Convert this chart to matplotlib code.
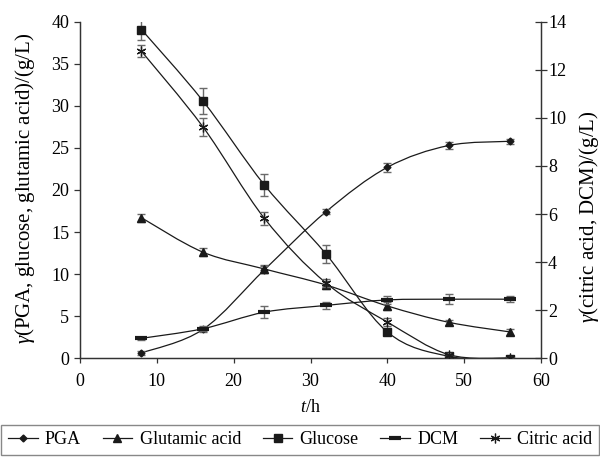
import numpy as np
import matplotlib
matplotlib.use("Agg")
import matplotlib.pyplot as plt
from matplotlib.path import Path
from matplotlib.patches import PathPatch

plt.rcParams['font.family'] = ['Liberation Serif', 'DejaVu Serif']
plt.rcParams['mathtext.fontset'] = 'custom'
plt.rcParams['mathtext.it'] = 'Liberation Serif:italic'
plt.rcParams['mathtext.rm'] = 'Liberation Serif'

# time points (h)
t = [8, 16, 24, 32, 40, 48, 56]

# left axis (g/L)
pga = [0.6, 3.4, 10.5, 17.4, 22.7, 25.3, 25.8]
pga_err = [0.2, 0.3, 0.4, 0.3, 0.5, 0.4, 0.3]
glutamic = [16.7, 12.6, 10.6, 8.7, 6.2, 4.25, 3.1]
glutamic_err = [0.5, 0.5, 0.5, 0.5, 0.5, 0.3, 0.4]
glucose = [39.1, 30.6, 20.6, 12.4, 3.1, 0.2, -0.15]
glucose_err = [1.2, 1.6, 1.3, 1.1, 0.4, 0.2, 0.2]

# right axis (g/L)
dcm = [0.82, 1.22, 1.91, 2.19, 2.42, 2.45, 2.45]
dcm_err = [0.05, 0.1, 0.25, 0.15, 0.15, 0.2, 0.12]
citric = [12.78, 9.63, 5.82, 3.13, 1.5, 0.14, 0.0]
citric_err = [0.25, 0.38, 0.26, 0.18, 0.18, 0.06, 0.05]

LC = '#1a1a1a'
EC = '#6a6a6a'
FS = 13


def smooth_line(ax, x, y):
    # Excel style smoothed line through the points (cubic Bezier segments)
    x = np.asarray(x, float)
    y = np.asarray(y, float)
    n = len(x)
    verts = [(x[0], y[0])]
    codes = [Path.MOVETO]
    for i in range(n - 1):
        x0, y0 = (x[i - 1], y[i - 1]) if i > 0 else (x[i], y[i])
        x3, y3 = (x[i + 2], y[i + 2]) if i + 2 < n else (x[i + 1], y[i + 1])
        c1 = (x[i] + (x[i + 1] - x0) / 6, y[i] + (y[i + 1] - y0) / 6)
        c2 = (x[i + 1] - (x3 - x[i]) / 6, y[i + 1] - (y3 - y[i]) / 6)
        verts += [c1, c2, (x[i + 1], y[i + 1])]
        codes += [Path.CURVE4] * 3
    ax.add_patch(PathPatch(Path(verts, codes), fill=False, ec=LC, lw=0.9,
                           zorder=2))


fig = plt.figure(figsize=(6, 4.57), dpi=100)
ax = fig.add_axes([0.1333, 0.2166, 0.7684, 0.7353])
ax2 = ax.twinx()

series = [
    (ax, pga, pga_err, dict(marker='D', ms=3.5), 'PGA'),
    (ax, glutamic, glutamic_err, dict(marker='^', ms=6), 'Glutamic acid'),
    (ax, glucose, glucose_err, dict(marker='s', ms=6), 'Glucose'),
    (ax2, dcm, dcm_err, dict(marker='_', ms=8, mew=3), 'DCM'),
    (ax2, citric, citric_err, dict(marker=(6, 2, 0), ms=7, mew=0.9), 'Citric acid'),
]

handles = []
for a, y, e, mk, name in series:
    a.errorbar(t, y, yerr=e, fmt='none', ecolor=EC, elinewidth=1,
               capsize=3.2, capthick=1, zorder=3)
    smooth_line(a, t, y)
    a.plot(t, y, ls='none', color=LC, mfc=LC, mec=LC, zorder=4, **mk)
    h, = ax.plot([], [], color=LC, lw=0.9, mfc=LC, mec=LC, **mk)
    handles.append((h, name))

ax.set_xlim(0, 60)
ax.set_ylim(0, 40)
ax2.set_ylim(0, 14)
ax.set_xticks(range(0, 61, 10))
ax.set_yticks(range(0, 41, 5))
ax2.set_yticks(range(0, 15, 2))

for a in (ax, ax2):
    a.spines['top'].set_visible(False)
    for s in a.spines.values():
        s.set_color('#333333')
        s.set_linewidth(0.9)
ax.tick_params(axis='x', direction='out', length=3.6, width=0.9,
               color='#333333', labelsize=FS, pad=7)
ax.tick_params(axis='y', direction='out', length=4.3, width=0.9,
               color='#333333', labelsize=FS, pad=3.5)
ax2.tick_params(axis='y', direction='inout', length=9, width=0.9,
                color='#333333', labelsize=FS, pad=0.5)

fig.text(310 / 600, 1 - 408 / 457, r'$t$/h', fontsize=FS,
         ha='center', va='center')
fig.text(25 / 600, 1 - 188 / 457, r'$\gamma$(PGA, glucose, glutamic acid)/(g/L)',
         fontsize=15, rotation=90, ha='center', va='center')
fig.text(589 / 600, 1 - 217 / 457, r'$\gamma$(citric acid, DCM)/(g/L)',
         fontsize=15, rotation=90, ha='center', va='center')

leg = fig.legend([h for h, _ in handles], [n for _, n in handles],
                 loc='upper center', bbox_to_anchor=(0.5, 1 - 425 / 457),
                 bbox_transform=fig.transFigure, ncol=5, borderaxespad=0,
                 fontsize=FS, handlelength=1.65, handletextpad=0.4,
                 columnspacing=1.2, borderpad=0.35, fancybox=False,
                 edgecolor='#888888', framealpha=1)
leg.get_frame().set_linewidth(1.0)

fig.savefig('out.png', dpi=100)
